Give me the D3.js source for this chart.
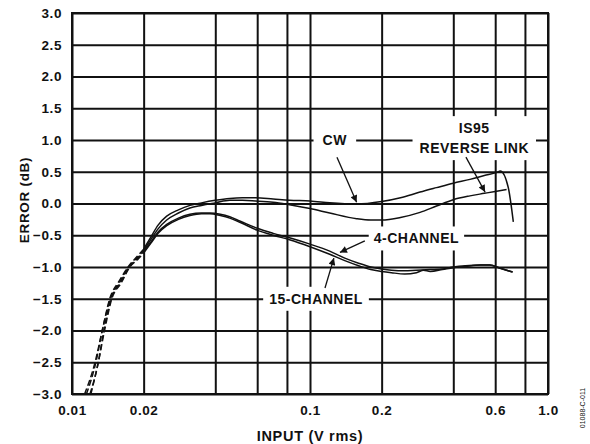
<!DOCTYPE html>
<html>
<head>
<meta charset="utf-8">
<script src="https://cdn.jsdelivr.net/npm/d3@7"></script>
<style>
  html, body { margin: 0; padding: 0; background: #fff; }
  svg { display: block; }
  text { font-family: "Liberation Sans", Arial, Helvetica, sans-serif; font-weight: bold; fill: #111; }
</style>
</head>
<body>
<svg id="chart" width="590" height="444"></svg>
<script>
// Grid and tick values
const gridX = [0.01, 0.02, 0.04, 0.06, 0.08, 0.1, 0.2, 0.4, 0.6, 0.8, 1.0];
const xTickValues = [0.01, 0.02, 0.1, 0.2, 0.6, 1.0];
const xTickText = ["0.01", "0.02", "0.1", "0.2", "0.6", "1.0"];
const yTicks = [-3, -2.5, -2, -1.5, -1, -0.5, 0, 0.5, 1, 1.5, 2, 2.5, 3];

// Error (dB) vs input (V rms): dashed low-level portion, then solid portion
const cwLow = [[0.0113,-3.0],[0.0125,-2.5],[0.0134,-2.0],[0.0144,-1.5],[0.0158,-1.22],[0.0172,-1.0],[0.0186,-0.85],[0.02,-0.72]];
const cwMain = [[0.02,-0.72],[0.0215,-0.52],[0.023,-0.34],[0.025,-0.2],[0.028,-0.1],[0.0313,-0.03],[0.035,0.01],[0.04,0.05],[0.046,0.08],[0.052,0.09],[0.059,0.09],[0.07,0.07],[0.082,0.05],[0.1,0.04],[0.121,0.01],[0.157,-0.01],[0.2,0.03],[0.24,0.09],[0.29,0.18],[0.34,0.25],[0.4,0.32],[0.47,0.38],[0.54,0.44],[0.61,0.49],[0.63,0.51],[0.68,0.26],[0.715,-0.29]];

const is95Low = [[0.0115,-3.0],[0.0126,-2.5],[0.0134,-2.0],[0.0145,-1.5],[0.0159,-1.23],[0.0173,-1.0],[0.0187,-0.86],[0.02,-0.74]];
const is95Main = [[0.02,-0.74],[0.0215,-0.56],[0.023,-0.4],[0.025,-0.26],[0.028,-0.15],[0.0313,-0.07],[0.035,-0.03],[0.04,0.01],[0.046,0.05],[0.052,0.05],[0.059,0.04],[0.07,0.02],[0.082,-0.02],[0.1,-0.08],[0.121,-0.15],[0.157,-0.24],[0.18,-0.26],[0.2,-0.26],[0.24,-0.22],[0.29,-0.14],[0.34,-0.04],[0.4,0.06],[0.47,0.12],[0.54,0.16],[0.6,0.19],[0.67,0.22]];

const ch4Low = [[0.0119,-3.0],[0.0129,-2.5],[0.0136,-2.0],[0.0146,-1.5],[0.016,-1.24],[0.0174,-1.0],[0.0188,-0.87],[0.02,-0.76]];
const ch4Main = [[0.02,-0.76],[0.0215,-0.6],[0.023,-0.45],[0.025,-0.33],[0.028,-0.23],[0.0313,-0.17],[0.035,-0.15],[0.038,-0.15],[0.042,-0.17],[0.046,-0.21],[0.051,-0.28],[0.06,-0.39],[0.07,-0.47],[0.082,-0.54],[0.1,-0.64],[0.121,-0.75],[0.14,-0.86],[0.16,-0.94],[0.18,-1.0],[0.2,-1.03],[0.22,-1.05],[0.25,-1.06],[0.28,-1.05],[0.32,-1.04],[0.36,-1.03],[0.4,-1.0],[0.45,-0.98],[0.52,-0.97],[0.57,-0.97],[0.63,-1.02],[0.71,-1.08]];

const ch15Low = [[0.012,-3.0],[0.0129,-2.5],[0.0137,-2.0],[0.0147,-1.5],[0.0161,-1.25],[0.0175,-1.0],[0.0189,-0.88],[0.02,-0.78]];
const ch15Main = [[0.02,-0.78],[0.0215,-0.62],[0.023,-0.47],[0.025,-0.35],[0.028,-0.25],[0.0313,-0.19],[0.035,-0.16],[0.038,-0.16],[0.042,-0.19],[0.046,-0.23],[0.051,-0.3],[0.06,-0.42],[0.07,-0.5],[0.082,-0.57],[0.1,-0.68],[0.121,-0.8],[0.14,-0.9],[0.16,-0.98],[0.18,-1.04],[0.2,-1.07],[0.22,-1.09],[0.25,-1.11],[0.28,-1.09],[0.3,-1.05],[0.32,-1.07],[0.36,-1.04],[0.4,-1.01],[0.45,-0.99],[0.52,-0.97],[0.57,-0.97],[0.63,-1.02],[0.71,-1.08]];

const seriesLow = [cwLow, is95Low, ch4Low, ch15Low];
const seriesMain = [cwMain, is95Main, ch4Main, ch15Main];

// Callout labels (block centre in data units) and their pointer arrows
const calloutLabels = [
  { lines: ["CW"], x: 0.127, y: 1.0, padX: 9 },
  { lines: ["IS95", "REVERSE LINK"], x: 0.49, y: 1.03, padX: 7 },
  { lines: ["4-CHANNEL"], x: 0.28, y: -0.55, padX: 5 },
  { lines: ["15-CHANNEL"], x: 0.106, y: -1.5, padX: 6 }
];
const calloutArrows = [
  { from: [0.1298, 0.73], to: [0.157, 0.02] },
  { from: [0.452, 0.73], to: [0.544, 0.18] },
  { from: [0.170, -0.59], to: [0.1336, -0.77] },
  { from: [0.1156, -1.33], to: [0.126, -0.86] }
];

const svg = d3.select("#chart");
const plotLeft = 72, plotRight = 548, plotTop = 13, plotBottom = 394;
const x = d3.scaleLog().domain([0.01, 1]).range([plotLeft, plotRight]);
const y = d3.scaleLinear().domain([-3, 3]).range([plotBottom, plotTop]);

const ink = "#111";

// Grid
const gx = svg.append("g").attr("transform", `translate(0,${plotBottom})`)
  .call(d3.axisBottom(x).tickValues(gridX).tickSize(-(plotBottom - plotTop)).tickFormat(""));
const gy = svg.append("g").attr("transform", `translate(${plotLeft},0)`)
  .call(d3.axisLeft(y).tickValues(yTicks).tickSize(-(plotRight - plotLeft)).tickFormat(""));
[gx, gy].forEach(g => {
  g.select(".domain").remove();
  g.selectAll("line").attr("stroke", ink).attr("stroke-width", 2);
});
svg.append("rect").attr("x", plotLeft).attr("y", plotTop)
  .attr("width", plotRight - plotLeft).attr("height", plotBottom - plotTop)
  .attr("fill", "none").attr("stroke", ink).attr("stroke-width", 2);

// Tick labels
const yAxis = svg.append("g").attr("transform", `translate(${plotLeft},0)`)
  .call(d3.axisLeft(y).tickValues(yTicks).tickSize(0).tickPadding(10).tickFormat(d3.format(".1f")));
const xAxis = svg.append("g").attr("transform", `translate(0,${plotBottom})`)
  .call(d3.axisBottom(x).tickValues(xTickValues).tickSize(0).tickPadding(11)
    .tickFormat((d, i) => xTickText[i]));
[xAxis, yAxis].forEach(g => {
  g.select(".domain").remove();
  g.selectAll("text").attr("font-family", null).attr("fill", ink)
    .style("font-size", "13.5px").style("letter-spacing", "0.6px");
});

// Axis titles
svg.append("text").attr("x", 310).attr("y", 441).attr("text-anchor", "middle")
  .style("font-size", "14.5px").style("letter-spacing", "0.7px").text("INPUT (V rms)");
svg.append("text").attr("transform", "translate(29,200) rotate(-90)").attr("text-anchor", "middle")
  .style("font-size", "13.5px").style("letter-spacing", "0.7px").text("ERROR (dB)");
svg.append("text").attr("transform", "translate(585,408) rotate(-90)").attr("text-anchor", "middle")
  .style("font-size", "7px").style("font-weight", "normal").text("01088-C-011");

// Curves
const line = d3.line().x(d => x(d[0])).y(d => y(d[1])).curve(d3.curveMonotoneX);
const curves = svg.append("g").attr("fill", "none").attr("stroke", ink).attr("stroke-width", 1.5);
seriesLow.forEach(s => curves.append("path").attr("d", line(s)).attr("stroke-dasharray", "6,3"));
seriesMain.forEach(s => curves.append("path").attr("d", line(s)));

// Callouts: white box behind text, then pointer arrows
const defs = svg.append("defs");
defs.append("marker").attr("id", "head").attr("viewBox", "0 0 10 10")
  .attr("refX", 10).attr("refY", 5).attr("markerWidth", 10).attr("markerHeight", 7)
  .attr("markerUnits", "userSpaceOnUse").attr("orient", "auto")
  .append("path").attr("d", "M0,0 L10,5 L0,10 Z").attr("fill", ink);

const lineGap = 20;
calloutLabels.forEach(c => {
  const g = svg.append("g");
  const cx = x(c.x), cy = y(c.y);
  const n = c.lines.length;
  const t = g.append("text").attr("text-anchor", "middle")
    .style("font-size", "14px").style("letter-spacing", "0.5px");
  c.lines.forEach((s, i) => {
    t.append("tspan").attr("x", cx)
      .attr("y", cy + (i - (n - 1) / 2) * lineGap).attr("dy", "0.36em").text(s);
  });
  const bb = t.node().getBBox();
  g.insert("rect", "text").attr("x", bb.x - c.padX).attr("y", bb.y - 4)
    .attr("width", bb.width + 2 * c.padX).attr("height", bb.height + 8).attr("fill", "#fff");
});

const arrowG = svg.append("g").attr("stroke", ink).attr("stroke-width", 1.3);
calloutArrows.forEach(a => {
  arrowG.append("line")
    .attr("x1", x(a.from[0])).attr("y1", y(a.from[1]))
    .attr("x2", x(a.to[0])).attr("y2", y(a.to[1]))
    .attr("marker-end", "url(#head)");
});
</script>
</body>
</html>
